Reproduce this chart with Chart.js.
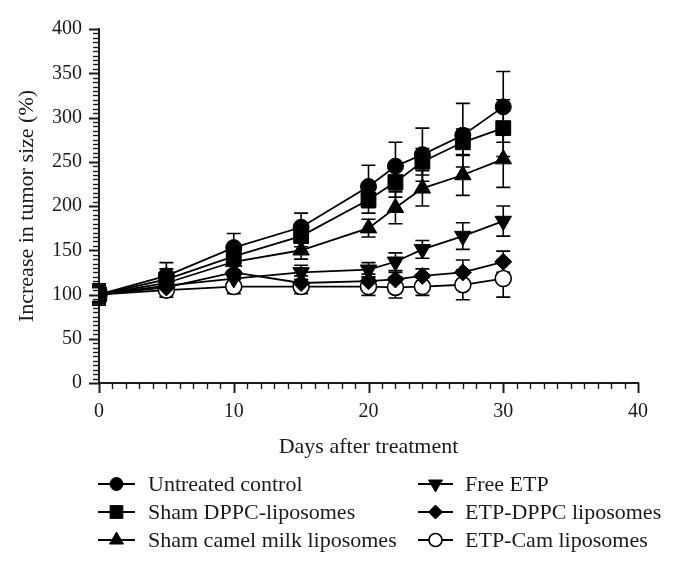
<!DOCTYPE html>
<html>
<head>
<meta charset="utf-8">
<script src="https://cdn.jsdelivr.net/npm/chart.js@4/dist/chart.umd.min.js"></script>
<style>
  html, body { margin: 0; padding: 0; background: #fff; }
  #wrap { width: 674px; height: 564px; }
</style>
</head>
<body>
<div id="wrap"><canvas id="tumorChart" width="674" height="564"></canvas></div>
<script>
// --- Données ---
const days = [0, 5, 10, 15, 20, 22, 24, 27, 30];

const untreated     = [100, 121, 153, 176, 222, 245, 258, 280, 312];
const untreatedSd   = [12, 15, 16, 16, 24, 27, 30, 36, 40];
const shamDppc      = [100, 117, 143, 166, 207, 227, 250, 272, 288];
const shamDppcSd    = [10, 12, 10, 12, 15, 17, 15, 15, 32];
const shamCamel     = [100, 113, 137, 150, 175, 198, 220, 235, 253];
const shamCamelSd   = [10, 10, 10, 10, 10, 18, 20, 23, 32];
const freeEtp       = [100, 110, 118, 125, 128, 137, 151, 166, 183];
const freeEtpSd     = [10, 8, 8, 8, 8, 10, 10, 15, 17];
const etpDppc       = [100, 108, 125, 113, 115, 117, 121, 125, 137];
const etpDppcSd     = [8, 8, 8, 8, 8, 8, 8, 14, 12];
const etpCam        = [100, 105, 109, 109, 109, 108, 109, 111, 118];
const etpCamSd      = [8, 8, 8, 8, 10, 12, 10, 17, 21];

const seriesNames = ['Untreated control', 'Sham DPPC-liposomes', 'Sham camel milk liposomes',
                     'Free ETP', 'ETP-DPPC liposomes', 'ETP-Cam liposomes'];

const yTicks = [0, 50, 100, 150, 200, 250, 300, 350, 400];
const xTicks = [0, 10, 20, 30, 40];

const FONT = '"Liberation Serif", "Times New Roman", serif';
const INK = '#1a1a1a';

// style des marqueurs (forme, taille, remplissage)
const markers = [
    { style: 'circle',   radius: 8,   rotation: 0,   fill: '#000', legendRadius: 6.5 },
    { style: 'rect',     radius: 10.5, rotation: 0,  fill: '#000', legendRadius: 9 },
    { style: 'triangle', radius: 9.5, rotation: 0,   fill: '#000', legendRadius: 8 },
    { style: 'triangle', radius: 9.5, rotation: 180, fill: '#000', legendRadius: 8 },
    { style: 'rectRot',  radius: 8.5, rotation: 0,   fill: '#000', legendRadius: 7 },
    { style: 'circle',   radius: 8,   rotation: 0,   fill: '#fff', legendRadius: 6.5 }
];

const values = [untreated, shamDppc, shamCamel, freeEtp, etpDppc, etpCam];
const errors = [untreatedSd, shamDppcSd, shamCamelSd, freeEtpSd, etpDppcSd, etpCamSd];

const datasets = values.map((vals, i) => ({
    label: seriesNames[i],
    data: days.map((d, j) => ({ x: d, y: vals[j] })),
    sd: errors[i],
    borderColor: '#000',
    borderWidth: 1.8,
    pointStyle: markers[i].style,
    pointRotation: markers[i].rotation,
    pointRadius: markers[i].radius,
    pointHoverRadius: markers[i].radius,
    pointBackgroundColor: markers[i].fill,
    pointBorderColor: '#000',
    pointBorderWidth: markers[i].fill === '#fff' ? 1.6 : 1,
    tension: 0,
    fill: false
}));

// Barres d'erreur (dessinées derrière les marqueurs)
const errorBars = {
    id: 'errorBars',
    beforeDatasetsDraw(chart) {
        const { ctx, scales: { x, y } } = chart;
        ctx.save();
        ctx.strokeStyle = '#000';
        ctx.lineWidth = 1.6;
        chart.data.datasets.forEach(ds => {
            ds.data.forEach((p, j) => {
                const px = x.getPixelForValue(p.x);
                const top = y.getPixelForValue(p.y + ds.sd[j]);
                const bot = y.getPixelForValue(p.y - ds.sd[j]);
                ctx.beginPath();
                ctx.moveTo(px, top); ctx.lineTo(px, bot);
                ctx.moveTo(px - 7, top); ctx.lineTo(px + 7, top);
                ctx.moveTo(px - 7, bot); ctx.lineTo(px + 7, bot);
                ctx.stroke();
            });
        });
        ctx.restore();
    }
};

// Graduations majeures et mineures (style Prism)
const axisTicks = {
    id: 'axisTicks',
    afterDraw(chart) {
        const { ctx, scales: { x, y }, chartArea } = chart;
        ctx.save();
        ctx.strokeStyle = INK;
        for (let v = 0; v <= 400; v += 5) {
            const major = v % 50 === 0;
            const py = Math.round(y.getPixelForValue(v)) + 0.5;
            ctx.lineWidth = major ? 2 : 1.4;
            ctx.beginPath();
            ctx.moveTo(chartArea.left, py);
            ctx.lineTo(chartArea.left - (major ? 10 : 6), py);
            ctx.stroke();
        }
        for (let d = 0; d <= 40; d += 1) {
            const major = d % 10 === 0;
            const px = Math.round(x.getPixelForValue(d)) + 0.5;
            ctx.lineWidth = major ? 2 : 1.4;
            ctx.beginPath();
            ctx.moveTo(px, chartArea.bottom);
            ctx.lineTo(px, chartArea.bottom + (major ? 10 : 6));
            ctx.stroke();
        }
        ctx.restore();
    }
};

function drawMarker(ctx, m, cx, cy, r) {
    const opts = { pointStyle: m.style, rotation: m.rotation, radius: r, borderWidth: 1 };
    ctx.fillStyle = m.fill;
    ctx.strokeStyle = '#000';
    ctx.lineWidth = m.fill === '#fff' ? 1.6 : 1;
    if (Chart.helpers && Chart.helpers.drawPoint) {
        Chart.helpers.drawPoint(ctx, opts, cx, cy);
    } else {
        ctx.beginPath();
        ctx.arc(cx, cy, r, 0, Math.PI * 2);
        ctx.fill();
        ctx.stroke();
    }
}

// Légende à deux colonnes, trait + marqueur
const lineLegend = {
    id: 'lineLegend',
    afterDraw(chart) {
        const ctx = chart.ctx;
        const cols = [{ x0: 98, x1: 135, text: 148 }, { x0: 418, x1: 453, text: 465 }];
        const rows = [484, 512, 540];
        ctx.save();
        ctx.font = '22px ' + FONT;
        ctx.textBaseline = 'middle';
        seriesNames.forEach((name, i) => {
            const c = cols[Math.floor(i / 3)];
            const yRow = rows[i % 3];
            ctx.strokeStyle = '#000';
            ctx.lineWidth = 2;
            ctx.beginPath();
            ctx.moveTo(c.x0, yRow);
            ctx.lineTo(c.x1, yRow);
            ctx.stroke();
            drawMarker(ctx, markers[i], (c.x0 + c.x1) / 2, yRow, markers[i].legendRadius);
            ctx.fillStyle = INK;
            ctx.fillText(name, c.text, yRow + 1);
        });
        ctx.restore();
    }
};

new Chart(document.getElementById('tumorChart'), {
    type: 'line',
    data: { datasets },
    options: {
        responsive: false,
        animation: false,
        events: [],
        layout: { padding: { left: 0, right: 36, top: 23, bottom: 0 } },
        plugins: { legend: { display: false }, tooltip: { enabled: false } },
        scales: {
            x: {
                type: 'linear',
                min: 0, max: 40,
                afterBuildTicks: s => { s.ticks = xTicks.map(v => ({ value: v })); },
                afterFit: s => { s.height = 181; },
                grid: { display: false, drawTicks: false },
                border: { display: true, color: INK, width: 2 },
                ticks: { color: INK, font: { family: FONT, size: 20 }, padding: 17, maxRotation: 0 },
                title: { display: true, text: 'Days after treatment', color: INK,
                         font: { family: FONT, size: 22 }, padding: { top: 0, bottom: 104 } }
            },
            y: {
                type: 'linear',
                min: 0, max: 400,
                afterBuildTicks: s => { s.ticks = yTicks.map(v => ({ value: v })); },
                afterFit: s => { s.width = 99; },
                grid: { display: false, drawTicks: false },
                border: { display: true, color: INK, width: 2 },
                ticks: { color: INK, font: { family: FONT, size: 20 }, padding: 17 },
                title: { display: true, text: 'Increase in tumor size (%)', color: INK,
                         font: { family: FONT, size: 22 }, padding: { top: 14, bottom: 0 } }
            }
        }
    },
    plugins: [errorBars, axisTicks, lineLegend]
});
</script>
</body>
</html>
